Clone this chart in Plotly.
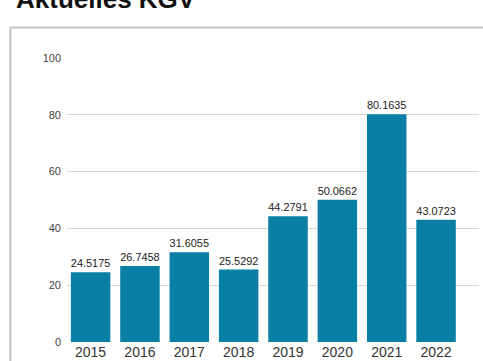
import plotly.graph_objects as go

years = ["2015", "2016", "2017", "2018", "2019", "2020", "2021", "2022"]
kgv = [24.5175, 26.7458, 31.6055, 25.5292, 44.2791, 50.0662, 80.1635, 43.0723]
labels = ["24.5175", "26.7458", "31.6055", "25.5292", "44.2791", "50.0662", "80.1635", "43.0723"]
y_ticks = [0, 20, 40, 60, 80, 100]

W, H = 483, 361
L, R = 66.7, 479
T, B = 58, 341.7
pw, ph = R - L, B - T

def px_x(x):
    return (x - L) / pw

def px_y(y):
    return (B - y) / ph

fig = go.Figure(go.Bar(
    x=years, y=kgv,
    marker=dict(color="#0A7FA6", line=dict(width=0)),
    width=0.8,
    text=labels, textposition="outside", cliponaxis=False,
    textfont=dict(family="Liberation Sans, Arial, sans-serif", size=11, color="#222222"),
))

fig.update_layout(
    width=W, height=H,
    margin=dict(l=L, r=W - R, t=T, b=H - B, pad=0, autoexpand=False),
    paper_bgcolor="white", plot_bgcolor="white",
    showlegend=False,
    xaxis=dict(
        type="category", range=[-0.478, 7.87], automargin=False,
        showgrid=False, zeroline=False, showline=False, ticks="",
        tickfont=dict(family="Liberation Sans, Arial, sans-serif", size=14, color="#333333"),
    ),
    yaxis=dict(
        range=[0, 100], tickvals=y_ticks, automargin=False,
        showgrid=True, gridcolor="#D6D6D6", gridwidth=1,
        zeroline=False, showline=False, ticks="",
        ticklabelstandoff=5,
        tickfont=dict(family="Liberation Sans, Arial, sans-serif", size=11, color="#444444"),
    ),
    shapes=[dict(
        type="rect", xref="paper", yref="paper",
        x0=px_x(10), x1=px_x(495), y0=px_y(370), y1=px_y(27.5),
        line=dict(color="#C4C4C4", width=2), fillcolor="rgba(0,0,0,0)", layer="below",
    )],
    annotations=[dict(
        text="<b>Aktuelles KGV</b>", xref="paper", yref="paper",
        x=px_x(14), y=px_y(16), xanchor="left", yanchor="bottom",
        showarrow=False,
        font=dict(family="Liberation Sans, Arial, sans-serif", size=26, color="#111111"),
    )],
)

fig.write_html(
    "out.html",
    config={"displayModeBar": False},
    post_script="document.body.style.margin='0';document.body.style.overflow='hidden';",
)
